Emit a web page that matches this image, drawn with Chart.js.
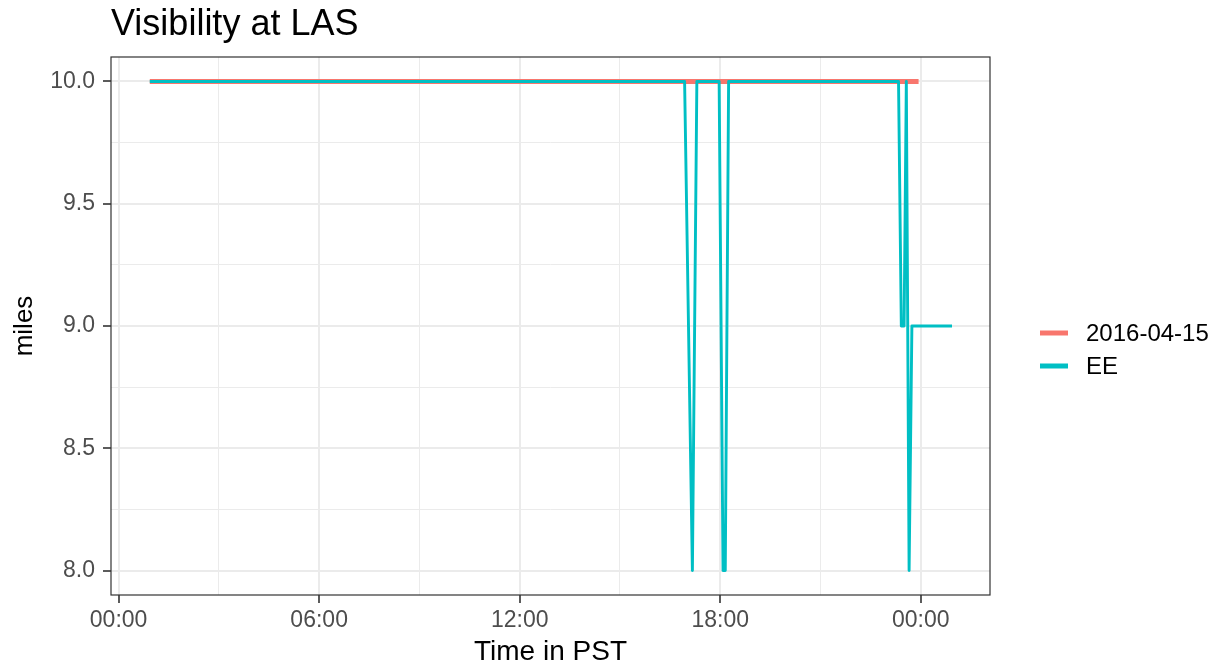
<!DOCTYPE html>
<html>
<head>
<meta charset="utf-8">
<title>Visibility at LAS</title>
<script src="https://cdn.jsdelivr.net/npm/chart.js@4.4.1/dist/chart.umd.min.js"></script>
<style>
  html, body { margin: 0; padding: 0; background: #ffffff; }
  #wrap { width: 1220px; height: 670px; position: relative; }
</style>
</head>
<body>
<div id="wrap"><canvas id="chart"></canvas></div>
<script>
const chartTitle = "Visibility at LAS";
const seriesNames = ["2016-04-15", "EE"];
const seriesColors = ["#F8766D", "#00BFC4"];

// hourly observations for the day
const obsTimes = [
  "00:56", "01:56", "02:56", "03:56", "04:56", "05:56", "06:56", "07:56",
  "08:56", "09:56", "10:56", "11:56", "12:56", "13:56", "14:56", "15:56",
  "16:56", "17:56", "18:56", "19:56", "20:56", "21:56", "22:56", "23:56"
];
const obsMiles = [
  10, 10, 10, 10, 10, 10, 10, 10,
  10, 10, 10, 10, 10, 10, 10, 10,
  10, 10, 10, 10, 10, 10, 10, 10
];

// EE reports, including the specials in the evening
const eeTimes = [
  "00:56", "01:56", "02:56", "03:56", "04:56", "05:56", "06:56", "07:56",
  "08:56", "09:56", "10:56", "11:56", "12:56", "13:56", "14:56", "15:56",
  "16:56", "17:10", "17:18", "17:58", "18:05", "18:09", "18:15", "18:56",
  "19:56", "20:56", "21:56", "22:56", "23:20", "23:25", "23:30", "23:34",
  "23:39", "23:44", "23:56", "00:56"
];
const eeMiles = [
  10, 10, 10, 10, 10, 10, 10, 10,
  10, 10, 10, 10, 10, 10, 10, 10,
  10, 8, 10, 10, 8, 8, 10, 10,
  10, 10, 10, 10, 10, 9, 9, 10,
  8, 9, 9, 9
];

const xTickHours = [0, 6, 12, 18, 24];
const xTickLabels = ["00:00", "06:00", "12:00", "18:00", "00:00"];
const yTickValues = [8.0, 8.5, 9.0, 9.5, 10.0];

// "HH:MM" -> hours since midnight, rolling over into the next day
function toPoints(times, values) {
  let dayOffset = 0, prev = -1;
  return times.map((t, i) => {
    const [h, m] = t.split(":").map(Number);
    let x = h + m / 60 + dayOffset;
    if (x < prev) { dayOffset += 24; x += 24; }
    prev = x;
    return { x: x, y: values[i] };
  });
}

const isMajorX = (v) => xTickHours.some((h) => Math.abs(h - v) < 1e-6);
const isMajorY = (v) => yTickValues.some((t) => Math.abs(t - v) < 1e-6);

Chart.defaults.font.family = "'Liberation Sans', Arial, sans-serif";

const panelPlugin = {
  id: "panel",
  afterDraw(chart) {
    const { ctx, chartArea: a } = chart;
    ctx.save();
    // panel border
    ctx.strokeStyle = "#333333";
    ctx.lineWidth = 1.2;
    ctx.strokeRect(a.left, a.top, a.right - a.left, a.bottom - a.top);

    // title
    ctx.fillStyle = "#000000";
    ctx.font = "36px 'Liberation Sans', Arial, sans-serif";
    ctx.textAlign = "left";
    ctx.textBaseline = "alphabetic";
    ctx.fillText(chartTitle, a.left, 35);

    // legend
    ctx.font = "24px 'Liberation Sans', Arial, sans-serif";
    ctx.textBaseline = "middle";
    const rows = [333, 366];
    seriesNames.forEach((name, i) => {
      ctx.strokeStyle = seriesColors[i];
      ctx.lineWidth = 5;
      ctx.lineCap = "butt";
      ctx.beginPath();
      ctx.moveTo(1040, rows[i]);
      ctx.lineTo(1068, rows[i]);
      ctx.stroke();
      ctx.fillStyle = "#000000";
      ctx.fillText(name, 1086, rows[i] + 1);
    });
    ctx.restore();
  }
};

new Chart(document.getElementById("chart"), {
  type: "line",
  data: {
    datasets: [
      {
        label: seriesNames[0],
        data: toPoints(obsTimes, obsMiles),
        borderColor: seriesColors[0],
        borderWidth: 5,
        borderCapStyle: "butt",
        borderJoinStyle: "round",
        pointRadius: 0,
        tension: 0,
        order: 2,
      },
      {
        label: seriesNames[1],
        data: toPoints(eeTimes, eeMiles),
        borderColor: seriesColors[1],
        borderWidth: 2.9,
        borderCapStyle: "butt",
        borderJoinStyle: "round",
        pointRadius: 0,
        tension: 0,
        order: 1,
      },
    ],
  },
  options: {
    responsive: true,
    maintainAspectRatio: false,
    animation: false,
    layout: { padding: { top: 57, right: 230, bottom: 0, left: 0 } },
    plugins: {
      legend: { display: false },
      title: { display: false },
      tooltip: { enabled: false },
    },
    scales: {
      x: {
        type: "linear",
        min: -0.227,
        max: 26.07,
        afterFit(scale) { scale.height = 75; },
        border: { display: false },
        grid: {
          color: "#EBEBEB",
          lineWidth: (c) => (isMajorX(c.tick.value) ? 2 : 1),
          tickLength: 8,
          tickColor: (c) => (isMajorX(c.tick.value) ? "#333333" : "rgba(0,0,0,0)"),
          tickWidth: 1.6,
        },
        ticks: {
          stepSize: 3,
          includeBounds: false,
          autoSkip: false,
          maxRotation: 0,
          padding: 4,
          color: "#4D4D4D",
          font: { size: 23 },
          callback: (v) => {
            const i = xTickHours.findIndex((h) => Math.abs(h - v) < 1e-6);
            return i >= 0 ? xTickLabels[i] : "";
          },
        },
        title: {
          display: true,
          text: "Time in PST",
          color: "#000000",
          font: { size: 28 },
          padding: { top: 0, bottom: 1 },
        },
      },
      y: {
        min: 7.9,
        max: 10.1,
        afterFit(scale) { scale.width = 111; },
        border: { display: false },
        grid: {
          color: "#EBEBEB",
          lineWidth: (c) => (isMajorY(c.tick.value) ? 2 : 1),
          tickLength: 8,
          tickColor: (c) => (isMajorY(c.tick.value) ? "#333333" : "rgba(0,0,0,0)"),
          tickWidth: 1.6,
        },
        ticks: {
          stepSize: 0.25,
          includeBounds: false,
          autoSkip: false,
          padding: 8,
          color: "#4D4D4D",
          font: { size: 23 },
          callback: (v) => (isMajorY(v) ? Number(v).toFixed(1) : ""),
        },
        title: {
          display: true,
          text: "miles",
          color: "#000000",
          font: { size: 26 },
          padding: { top: 9, bottom: 0 },
        },
      },
    },
  },
  plugins: [panelPlugin],
});
</script>
</body>
</html>
